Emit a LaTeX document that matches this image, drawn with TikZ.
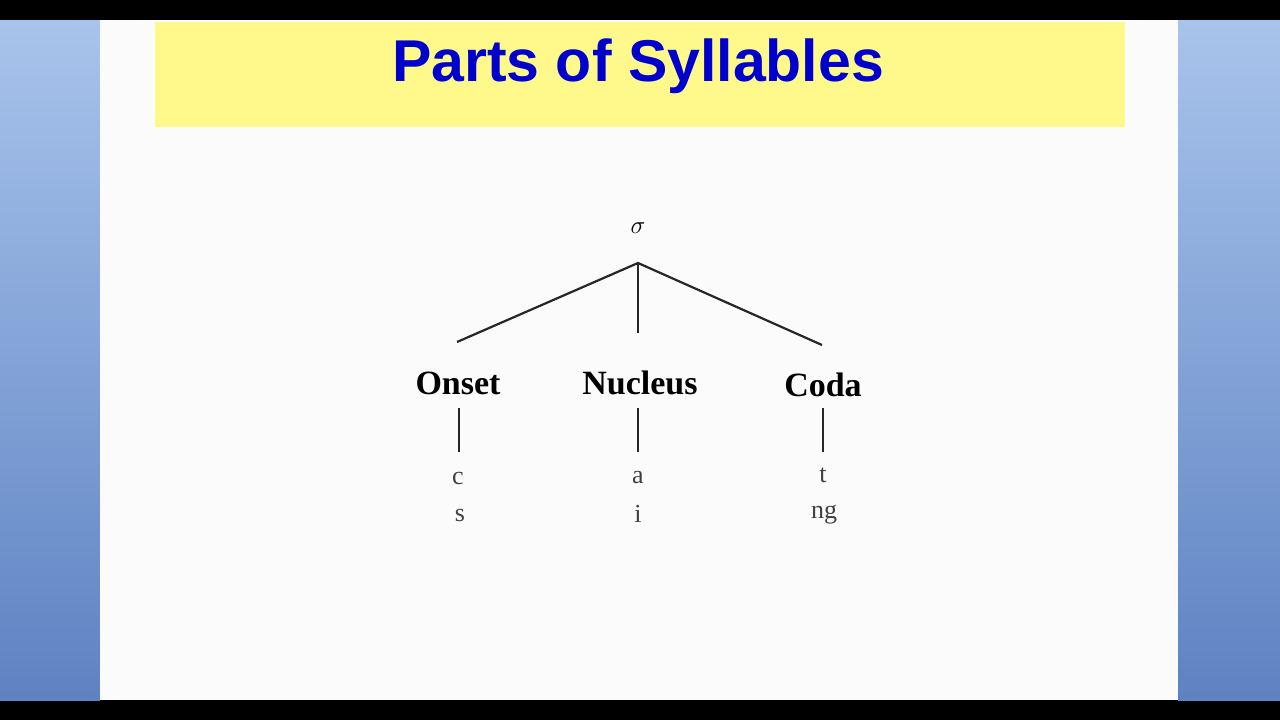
\documentclass[tikz,border=0pt]{standalone}
\usepackage{fontspec}
\setmainfont{Liberation Serif}
\newfontfamily\titlefont{Liberation Sans}
\definecolor{sidetop}{HTML}{A8C4EC}
\definecolor{sidebot}{HTML}{5E82C2}
\begin{document}
\begin{tikzpicture}[x=1pt,y=-1pt,
  lab/.style={font=\fontsize{34}{36}\selectfont\bfseries, inner sep=0pt},
  seg/.style={font=\fontsize{26}{28}\selectfont, inner sep=0pt, text=black!75},
  br/.style={line width=2.2pt, black!85}]
\useasboundingbox (0,0) rectangle (1280,720);
\fill[black] (0,0) rectangle (1280,720);
\shade[top color=sidetop, bottom color=sidebot] (0,20) rectangle (100,700);
\shade[top color=sidetop, bottom color=sidebot] (1178,20) rectangle (1280,700);
\fill[white!97!gray] (100,20) rectangle (1178,700);
\fill[yellow!45!white] (155,22) rectangle (1125,127);
\node[font=\titlefont\fontsize{59}{62}\selectfont\bfseries, text=blue!80!black, anchor=base, inner sep=0pt] (title) at (638,81) {Parts of Syllables};
\node[font=\fontsize{28}{30}\selectfont, inner sep=0pt] (sig) at (638,228) {$\sigma$};
\coordinate (apex) at (638,263);
\coordinate (lo) at (457,342);
\coordinate (ln) at (638,333);
\coordinate (lc) at (822,345);
\draw[br] (lo) -- (apex) -- (lc);
\draw[br] (apex) -- (ln);
\node[lab] (on) at (458,383) {Onset};
\node[lab] (nu) at (640,383) {Nucleus};
\node[lab] (co) at (823,385) {Coda};
\coordinate (o1) at (459,408); \coordinate (o2) at (459,452);
\coordinate (n1) at (638,408); \coordinate (n2) at (638,452);
\coordinate (c1) at (823,408); \coordinate (c2) at (823,452);
\draw[br] (o1) -- (o2); \draw[br] (n1) -- (n2); \draw[br] (c1) -- (c2);
\node[seg] (c) at (458,478) {c};
\node[seg] (s) at (460,515) {s};
\node[seg] (a) at (638,478) {a};
\node[seg] (i) at (638,514) {i};
\node[seg] (t) at (823,475) {t};
\node[seg] (ng) at (824,515) {ng};
\end{tikzpicture}
\end{document}
